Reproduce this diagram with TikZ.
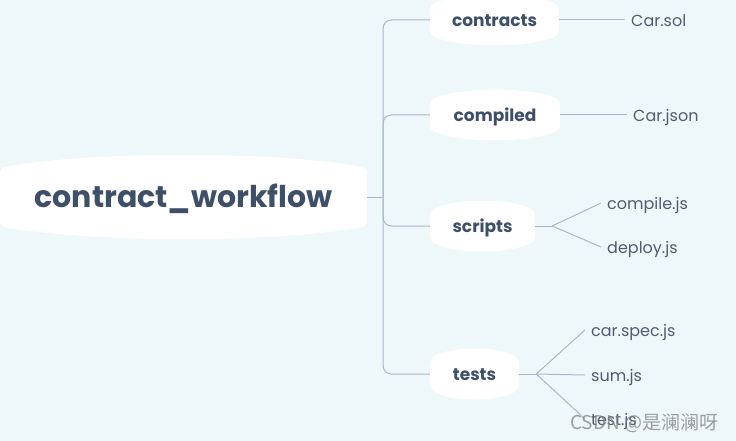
\documentclass[tikz,border=0pt]{standalone}
\usepackage{fontspec}
\setmainfont{Poppins}
\newfontfamily\cjkfont{Noto Sans CJK SC}
\usetikzlibrary{calc,backgrounds}
\definecolor{bgblue}{HTML}{EEF7FA}
\definecolor{inkblue}{HTML}{3E4F69}
\definecolor{leafink}{HTML}{505C72}
\definecolor{linkgray}{HTML}{A9B9C9}

% white bubble behind a node, top and bottom bent out by #2
\newcommand{\bubble}[2]{%
  \fill[white, rounded corners=5pt] (#1.south west) -- (#1.north west)
    .. controls ($(#1.north west)!.25!(#1.north east)+(0pt,#2)$) and ($(#1.north west)!.75!(#1.north east)+(0pt,#2)$) .. (#1.north east)
    -- (#1.south east)
    .. controls ($(#1.south west)!.75!(#1.south east)-(0pt,#2)$) and ($(#1.south west)!.25!(#1.south east)-(0pt,#2)$) .. (#1.south west) -- cycle;}

\begin{document}
\begin{tikzpicture}[x=1pt, y=-1pt,
    root/.style={font=\bfseries\fontsize{30}{32}\selectfont, text=inkblue, minimum width=367pt, minimum height=58pt, inner sep=0pt, text height=20pt, text depth=0pt},
    branch/.style={font=\bfseries\fontsize{17}{19}\selectfont, text=inkblue, minimum height=30pt, inner sep=0pt, text height=13pt, text depth=0pt},
    leaf/.style={font=\fontsize{16}{18}\selectfont, text=leafink, anchor=west, inner sep=0pt, inner xsep=6pt, text height=13pt, text depth=0pt},
    link/.style={draw=linkgray, line width=1pt}]
    \useasboundingbox (0,0) rectangle (736,441);

    \node[root] (workflow) at (183.5,197) {contract\_workflow};
    \node[branch, minimum width=129pt] (contracts) at (494.5,20) {contracts};
    \node[branch, minimum width=130pt] (compiled) at (495,115) {compiled};
    \node[branch, minimum width=105pt] (scripts) at (482.5,226) {scripts};
    \node[branch, minimum width=89pt] (tests) at (474.5,374) {tests};

    \node[leaf] (carsol) at (625,20) {Car.sol};
    \node[leaf] (carjson) at (627,115) {Car.json};
    \node[leaf] (compilejs) at (601,203) {compile.js};
    \node[leaf] (deployjs) at (601,247) {deploy.js};
    \node[leaf] (carspec) at (585,330) {car.spec.js};
    \node[leaf] (sumjs) at (585,375) {sum.js};
    \node[leaf] (testjs) at (585,419) {test.js};

    \begin{pgfonlayer}{background}
        \fill[bgblue] (0,0) rectangle (736,441);
        \bubble{workflow}{17pt}
        \bubble{contracts}{13pt}
        \bubble{compiled}{13pt}
        \bubble{scripts}{13pt}
        \bubble{tests}{13pt}
    \end{pgfonlayer}

    \coordinate (trunk) at ($(workflow.east)+(16,0)$);
    \draw[link] (workflow.east) -- (trunk);
    \draw[link, rounded corners=8pt] (trunk) |- (contracts.west);
    \draw[link, rounded corners=8pt] (trunk) |- (compiled.west);
    \draw[link, rounded corners=8pt] (trunk) |- (scripts.west);
    \draw[link, rounded corners=8pt] (trunk) |- (tests.west);

    \draw[link] (contracts.east) -- (carsol.west);
    \draw[link] (compiled.east) -- (carjson.west);

    \coordinate (scriptsfork) at ($(scripts.east)+(17,0)$);
    \draw[link] (scripts.east) -- (scriptsfork);
    \draw[link] (scriptsfork) -- (compilejs.west);
    \draw[link] (scriptsfork) -- (deployjs.west);

    \coordinate (testsfork) at ($(tests.east)+(17,0)$);
    \draw[link] (tests.east) -- (testsfork);
    \draw[link] (testsfork) -- (carspec.west);
    \draw[link] (testsfork) -- (sumjs.west);
    \draw[link] (testsfork) -- (testjs.west);

    \node[anchor=west, inner sep=0pt, text=gray, opacity=.75, font=\cjkfont\fontsize{19}{21}\selectfont] (mark) at (570,423) {CSDN @是澜澜呀};
\end{tikzpicture}
\end{document}
